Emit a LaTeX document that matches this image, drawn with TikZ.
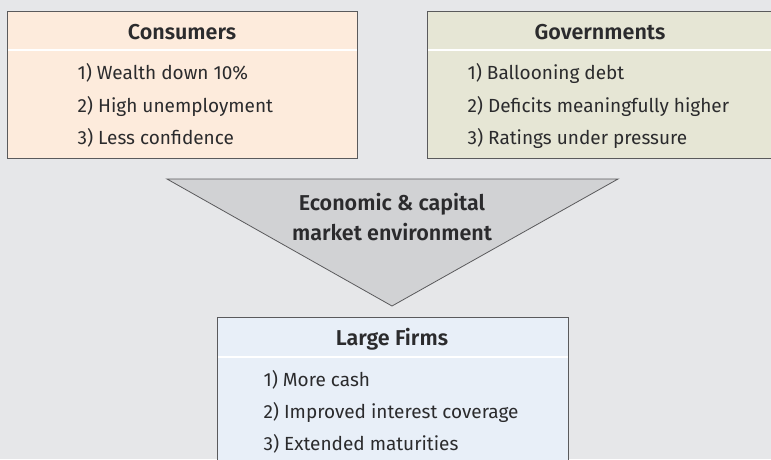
\documentclass[tikz,border=0pt]{standalone}
\usepackage{fontspec}
\setmainfont{Fira Sans}[BoldFont={Fira Sans SemiBold}]
\begin{document}
\begin{tikzpicture}[x=1pt,y=-1pt,
  panel/.style={draw=edgegray, line width=1pt},
  divider/.style={draw=white, line width=1.5pt},
  heading/.style={font=\fontsize{21.5}{30}\selectfont\bfseries, text=inkgray, anchor=center},
  item/.style={font=\fontsize{19}{22}\selectfont, text=inkgray, anchor=west}]
\definecolor{bggray}{HTML}{E6E7E9}
\definecolor{edgegray}{HTML}{5A5A5C}
\definecolor{inkgray}{HTML}{2B2B2D}
\definecolor{peach}{HTML}{FDEBDC}
\definecolor{sage}{HTML}{E6E6D5}
\definecolor{funnel}{HTML}{D1D2D4}
\definecolor{paleblue}{HTML}{E8EFF8}
% canvas
\fill[bggray] (0,0) rectangle (771,459);
\useasboundingbox (0,0) rectangle (771,459);

% Consumers panel
\path[fill=peach] (7,11) rectangle (357,158);
\draw[divider] (7,50) -- (357,50);
\draw[panel] (7,11) rectangle (357,158);
\node[heading] (cons) at (182,32) {Consumers};
\node[item] (c1) at (74,73) {1) Wealth down 10\%};
\node[item] (c2) at (74,106) {2) High unemployment};
\node[item] (c3) at (74,138) {3) Less confidence};

% Governments panel (runs off the right edge)
\path[fill=sage] (427,11) rectangle (772,158);
\draw[divider] (427,50) -- (772,50);
\draw[panel] (772,11) -- (427,11) -- (427,158) -- (772,158);
\node[heading] (gov) at (600,32) {Governments};
\node[item] (g1) at (464,73) {1) Ballooning debt};
\node[item] (g2) at (464,106) {2) Deficits meaningfully higher};
\node[item] (g3) at (464,138) {3) Ratings under pressure};

% funnel
\draw[panel, fill=funnel, line width=0.8pt] (167,179) -- (618,179) -- (392,306) -- cycle;
\node[heading, align=center] (env) at (392,217)
  {Economic \& capital\\market environment};

% Large Firms panel (runs off the bottom edge)
\path[fill=paleblue] (217,317) rectangle (568,460);
\draw[divider] (217,357) -- (568,357);
\draw[panel] (217,460) -- (217,317) -- (568,317) -- (568,460);
\node[heading] (firms) at (392,339) {Large Firms};
\node[item] (f1) at (260,380) {1) More cash};
\node[item] (f2) at (260,412) {2) Improved interest coverage};
\node[item] (f3) at (260,444) {3) Extended maturities};
\end{tikzpicture}
\end{document}
